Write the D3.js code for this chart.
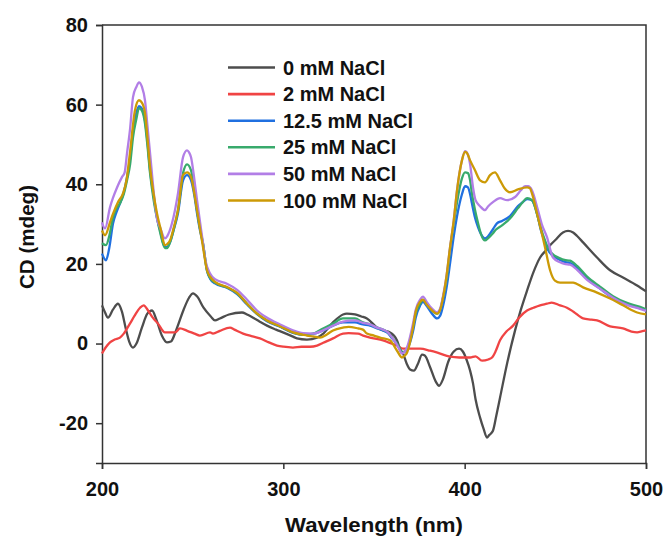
<!DOCTYPE html>
<html><head><meta charset="utf-8">
<script src="https://cdn.jsdelivr.net/npm/d3@7/dist/d3.min.js"></script>
<style>body{margin:0;background:#fff}svg{display:block}text{font-family:"Liberation Sans",Arial,sans-serif;font-weight:bold;fill:#111}</style>
</head><body><svg id="c" width="665" height="540"></svg>
<script>
const seriesNames = ["0 mM NaCl","2 mM NaCl","12.5 mM NaCl","25 mM NaCl","50 mM NaCl","100 mM NaCl"];
const seriesColors = ["#4d4d4d","#f04444","#2070e0","#38aa6c","#b27ee6","#cc9a06"];
const xTicks = [200,300,400,500];
const yTicks = [-20,0,20,40,60,80];

const s0 = [[200,9.6],[201.5,8],[203.3,6.5],[206,8.5],[208.8,10],[211,8],[213,4],[215,0.5],[217.1,-1],[219,0],[222,4],[225,7.5],[227.6,8.3],[230,6],[233,2],[235.8,0.3],[238,0.5],[241,3.5],[245,8.5],[248,11.5],[250.2,12.6],[252.5,11.8],[256,9],[260,6.8],[262.3,5.8],[265,6.3],[270,7.3],[277.2,7.8],[280,7.3],[283.3,6.5],[287,5.5],[291,4.5],[296,3.5],[299.8,2.8],[305,1.8],[307.5,1.3],[313,1],[318.6,1.5],[322,2.5],[327.4,5.3],[332.9,7.3],[335,7.5],[339.5,7.3],[343,6.8],[346.1,6.3],[351.7,4],[355,3.3],[358.8,2.8],[362.7,0.8],[364.5,-1.5],[366,-2.5],[368,-5],[369.9,-6.5],[372,-6.8],[374.3,-5],[376.5,-2.8],[378,-3],[381,-6],[384,-9.5],[385.9,-10.6],[388,-9],[391,-4.5],[394,-2],[396.9,-1.3],[399,-2],[401,-4],[403,-6.8],[404.6,-10],[406,-14],[408.5,-18.6],[410.5,-21.5],[412.3,-23.6],[413.5,-23],[415.6,-21.9],[417.5,-18],[419.5,-13.6],[423.4,-5],[427.8,3.3],[431,8.5],[434.4,13.3],[438,18],[441.6,21.6],[445,23.5],[447.1,24.7],[450,26],[454.2,27.9],[457,28.3],[459.8,27.9],[462,27],[465.3,25.4],[473,21.6],[480.2,18.4],[487.3,16.6],[495.1,14.6],[500,13.1]];
const s2 = [[200,-2.5],[202,-1],[204.4,0.3],[207,1],[209.9,1.5],[212,2.5],[215.4,5],[218,7],[221,9],[223,9.6],[225.4,8.3],[228,6.5],[230.9,5],[234.7,2.8],[237,2.8],[240.3,2.8],[243,3.8],[247,3.2],[251,2.5],[254,2],[259.6,2.8],[261.2,2.5],[265,3.2],[270.6,4],[273,3.5],[277.8,2.5],[283,1.8],[287.1,1.3],[292,0.3],[296.5,-0.5],[300,-0.8],[305.3,-1],[310,-0.8],[314.7,-0.8],[318.6,-0.5],[322,0.2],[327.4,1.3],[332.9,2.5],[336,2.6],[341.2,2.5],[344,2],[347.8,1.5],[350,1.3],[355,0.8],[358,0.3],[362.7,-0.5],[366,-1.3],[370,-1.3],[375.4,-1.3],[380.9,-1.8],[385,-2.3],[391.9,-3.3],[397,-3.5],[403,-3.5],[406,-3.2],[409.6,-4.3],[413,-4],[415.1,-3.5],[417,-2],[419.5,0.8],[423,3],[426.7,4.5],[430,6.5],[434.4,8.3],[438,9],[441.6,9.6],[445.4,10],[448,10.3],[452.6,9.6],[456.4,9],[460,8],[465.3,6.3],[470,6],[473,5.8],[480.2,4.3],[487.3,3.8],[492,3],[495.1,2.8],[498,3.1],[500,3.3]];
const s12 = [[200,22.6],[202.2,20.9],[204,24],[206.1,30.2],[208,33],[209.9,35.2],[212,38],[213.8,41.8],[215.5,46.5],[217.1,53.6],[219,58],[220.4,59.6],[222,59],[223.7,56.1],[225,51],[226.5,43.5],[228.5,37],[230.3,31.7],[232,28.5],[234.7,24.2],[236,24.3],[237.5,25.4],[239.5,28.5],[241.9,32.7],[244.7,41],[246.9,42.3],[249.1,41],[251,37],[252.4,32.7],[254,28.5],[255.7,25],[257.9,18.3],[259.6,16.3],[262.3,15.1],[268.9,14],[274.5,12.4],[280,9.8],[285.5,7.4],[291,5.6],[298.2,4.2],[305.3,2.7],[310.9,2.2],[316.4,2.4],[321.9,3.3],[327.4,4.5],[332.9,5.3],[339.5,5.3],[343.9,4.8],[347.8,4.5],[351.7,3.8],[355,3.3],[357.7,2.6],[360,1.3],[362.7,-0.2],[364,-1.2],[365.4,-2.3],[367,-2],[368.2,-1.5],[371.5,3],[373,6.5],[375.4,9.5],[377,10.5],[379,9.5],[382,7.5],[384.8,6.3],[386.5,7],[388.1,9.5],[390,14],[391.9,20],[394,27],[395.8,32],[398.5,37.5],[400.2,39.5],[401.8,39.2],[403,37.5],[404,35.2],[405.5,32],[407.4,29.2],[409,27.5],[411.2,26.4],[413,27],[415.6,28.7],[417.8,30.2],[420.6,30.8],[425,32],[429.4,34.5],[432,35.5],[434.4,36.3],[437.1,36],[440.4,31.7],[442,28.5],[444.3,25.5],[446,23.5],[448.2,22.2],[452.6,21],[455,20.5],[458.1,20.2],[462,19],[467.5,16.3],[474.6,13.8],[481.8,11.4],[489.5,9.8],[496.7,8.9],[500,8.4]];
const s25 = [[200,25.2],[202.2,24.7],[204,27],[206.1,31.7],[208,34],[209.9,35.2],[212,37.5],[213.8,41],[215.5,45],[217.1,51.8],[219,56.5],[220.4,59.1],[222,58.5],[223.7,55.3],[225,50],[226.5,42.8],[228.5,36],[230.3,31.5],[232,28],[234.7,24],[236,24],[237.5,25.4],[239.5,28.5],[241.9,33.5],[244.7,42.8],[246.9,45],[249.1,43.5],[251,38],[252.4,33.5],[254,29],[255.7,25.2],[257.9,18.4],[259.6,16.5],[262.3,15.3],[268.9,14.1],[274.5,12.6],[280,10],[285.5,7.5],[291,5.8],[298.2,4.3],[305.3,2.8],[310.9,2.2],[316.4,2.5],[321.9,3.8],[327.4,5],[332.9,6.3],[339.5,6.3],[343.9,5.3],[347.8,4.8],[351.7,4],[355,3.5],[357.7,2.8],[360,1.5],[362.7,0],[364,-1],[365.4,-2.3],[367,-2],[368.2,-1.3],[371.5,4],[373,7.5],[375.4,10],[377,11],[379,10],[382,8.3],[384.8,7.5],[386.5,8.5],[388.1,11.6],[390,16],[391.9,23.4],[394,30],[395.8,35.5],[398.5,41.5],[400.2,43],[401.8,42.8],[403,41],[404,37.7],[405.5,34],[407.4,30.2],[409,27.5],[411.2,25.9],[413,26.5],[415.6,27.7],[417,28.5],[420.6,29.7],[425,31.4],[429.4,34],[432,35.5],[434.4,36.5],[437.1,36],[440.4,31.7],[442,29],[444.3,25.9],[446,24],[448.2,22.6],[452.6,21.4],[455,21],[458.1,20.8],[462,19.5],[467.5,16.8],[474.6,14.3],[481.8,11.9],[489.5,10.2],[496.7,9.2],[500,8.6]];
const s50 = [[200,30.4],[201.7,28.9],[204.4,34.2],[206,36.5],[208.3,39.2],[211,41.8],[212.5,43],[213.8,47.8],[215.5,54],[217.1,61.9],[219,64.5],[220.4,65.6],[222,64.5],[223.7,61.1],[225,55],[226.5,47.8],[229.2,35.2],[230.5,31],[232,29.2],[234.7,26.4],[236,27],[238.6,30.2],[241.9,37.7],[244.7,46.8],[246.9,48.5],[248,48],[249.1,46.8],[251,41],[252.4,36],[255.7,25.2],[257,21],[259.6,17.6],[262.3,16.2],[268.9,15],[274.5,13.5],[280,11],[285.5,8.3],[291,6.5],[298.2,4.8],[305.3,3.3],[310.9,2.6],[316.4,2.5],[321.9,3.3],[327.4,4.5],[332.9,5.5],[339.5,5.8],[343.9,5.2],[347.8,4.8],[351.7,4],[355,3.5],[357.7,2.8],[360,1.5],[362.7,-0.3],[364,-1.5],[365.4,-2.5],[367,-2],[368.2,-1],[371.5,5],[373,8.5],[375.4,11],[377,11.8],[379,10.5],[382,8.8],[384.8,7.8],[386.5,8.8],[388.1,12],[390,17],[391.9,24],[394,31],[395.8,38.5],[398.5,46],[400.2,48.3],[401.8,47.5],[403,45],[404.6,39.2],[406,36],[408.5,34.5],[411.2,33.5],[413,34.5],[415.6,35.5],[419.5,36.5],[423.4,36],[427.8,36.8],[431,38.5],[433.3,39.5],[435,39.5],[437.1,38.5],[440.4,33.5],[442.5,30],[445.4,26.7],[448.7,21.6],[452.6,20.4],[455,20],[458.1,19.8],[462,18.5],[467.5,16],[474.6,13.8],[481.8,11.5],[489.5,9.7],[496.7,8.7],[500,8.2]];
const s100 = [[200,28.4],[201.7,27.2],[204.4,30.4],[206,32.5],[208.8,35.5],[211.6,37.7],[213.5,41],[215.4,47.8],[218.2,58.6],[220.4,61.1],[222,60.5],[223.7,57.9],[225,52],[226.5,44.3],[228.5,37.5],[230.3,32.7],[232.5,28.5],[234.7,24.7],[236,25],[237.5,25.9],[239.5,29],[241.9,33.5],[244.7,42.3],[246.9,43],[249.1,41.8],[251,37.5],[252.4,33.5],[254,29],[255.7,24.2],[257.9,18.4],[259.6,16.8],[262.3,15.5],[268.9,14.2],[274.5,12.7],[280,10],[285.5,7.5],[291,5.8],[298.2,4.3],[305.3,2.8],[310.9,2.2],[313,2],[316.4,1.8],[320.2,1.5],[324,2.3],[327.4,3.3],[332.9,4],[336,4.2],[341.2,3.8],[343.9,3.5],[346.1,2.5],[350,2],[353.3,1.5],[358.8,0.8],[362.7,-1.8],[365.4,-3.5],[367,-3],[368.2,-2.3],[371.5,4],[373,8],[375.4,10.5],[377,11],[379,9.8],[382,8.3],[384.8,7.5],[386.5,8.5],[388.1,11.6],[390,17],[391.9,24],[394,31],[395.8,38.5],[398.5,46],[400.2,48.1],[401,48],[403,46],[405.7,43.5],[408.5,41],[411.2,40.5],[414,42.3],[416.7,43],[419.5,41],[422,39],[425,38],[429.4,38.7],[434.4,39.2],[436,39],[437.1,37.7],[440.4,31.7],[444.3,24.2],[447.1,18.4],[449.8,15.8],[452.6,15.3],[456,15.3],[459.8,15.3],[465.3,14.1],[473,12.8],[480.2,11.3],[487.3,9.6],[495.1,7.8],[500,7.3]];
const seriesData = [s0, s2, s12, s25, s50, s100];

const svg = d3.select("#c");
const m = {l:102, t:25, r:19, b:77};
const W = 665 - m.l - m.r, H = 540 - m.t - m.b;
const x = d3.scaleLinear().domain([200,500]).range([m.l, m.l+W]);
const y = d3.scaleLinear().domain([-30,80]).range([m.t+H, m.t]);
const fmt = d => String(d);

// frame (top/right)
svg.append("path").attr("d", `M${m.l},${m.t}H${m.l+W}V${m.t+H}`).attr("fill","none").attr("stroke","#333").attr("stroke-width",1.5);

// x axis
const gx = svg.append("g").attr("transform",`translate(0,${m.t+H})`);
gx.call(d3.axisBottom(x).tickValues(d3.range(200,501,50)).tickSize(4).tickFormat(""));
gx.call(d3.axisBottom(x).tickValues(xTicks).tickSize(6).tickPadding(13).tickFormat(fmt));
gx.selectAll("path,line").attr("stroke","#333").attr("stroke-width",1.5);
gx.selectAll("text").style("font-size","20px").style("font-family","'Liberation Sans',Arial,sans-serif").style("font-weight","bold").attr("fill","#111");

// y axis
const gy = svg.append("g").attr("transform",`translate(${m.l},0)`);
gy.call(d3.axisLeft(y).tickValues(d3.range(-30,81,10)).tickSize(4).tickFormat(""));
gy.call(d3.axisLeft(y).tickValues(yTicks).tickSize(6).tickPadding(8).tickFormat(fmt));
gy.selectAll("path,line").attr("stroke","#333").attr("stroke-width",1.5);
gy.selectAll("text").style("font-size","20px").style("font-family","'Liberation Sans',Arial,sans-serif").style("font-weight","bold").attr("fill","#111");

// titles
svg.append("text").attr("x", x(350)).attr("y", 532).attr("text-anchor","middle").style("font-size","20px")
  .attr("textLength",178).attr("lengthAdjust","spacingAndGlyphs").text("Wavelength (nm)");
svg.append("text").attr("transform",`translate(34,237) rotate(-90)`).attr("text-anchor","middle").style("font-size","20px")
  .attr("textLength",104).attr("lengthAdjust","spacingAndGlyphs").text("CD (mdeg)");

// lines
const line = d3.line().x(d=>x(d[0])).y(d=>y(d[1])).curve(d3.curveMonotoneX);
seriesData.forEach((data,i)=>{
  svg.append("path").datum(data).attr("d", line).attr("fill","none")
    .attr("stroke", seriesColors[i]).attr("stroke-width",2.3).attr("stroke-linejoin","round");
});

// legend
const lg = svg.append("g");
seriesNames.forEach((n,i)=>{
  const cy = 67.5 + i*26.6;
  lg.append("line").attr("x1",228).attr("x2",275).attr("y1",cy).attr("y2",cy).attr("stroke",seriesColors[i]).attr("stroke-width",2.6);
  lg.append("text").attr("x",283).attr("y",cy+7).style("font-size","20px").text(n);
});
</script></body></html>
